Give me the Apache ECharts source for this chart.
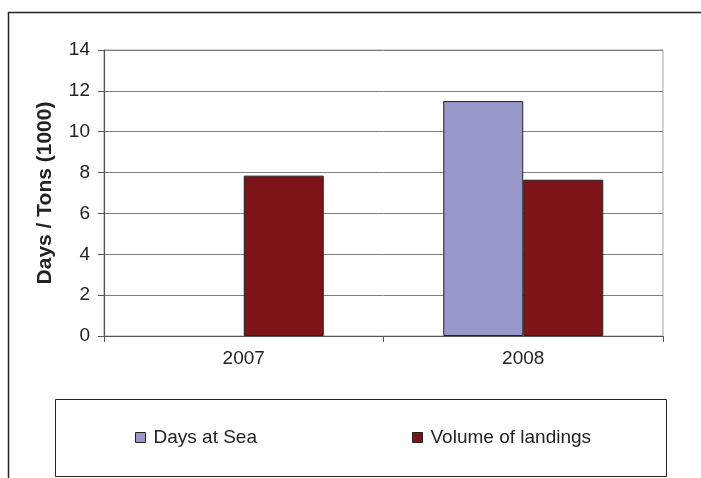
<!DOCTYPE html>
<html>
<head>
<meta charset="utf-8">
<script src="https://cdn.jsdelivr.net/npm/echarts@6/dist/echarts.min.js"></script>
<style>
  html, body { margin: 0; padding: 0; background: #fff; }
  #chart { width: 701px; height: 478px; }
</style>
</head>
<body>
<div id="chart"></div>
<script>
// Fishing effort and landings per year
const years = ['2007', '2008'];
const daysAtSea = [null, 11.5];
const volumeOfLandings = [7.85, 7.65];
const yTicks = [0, 2, 4, 6, 8, 10, 12, 14];
const seriesNames = ['Days at Sea', 'Volume of landings'];

const FONT = 'Liberation Sans, Arial, sans-serif';
const chart = echarts.init(document.getElementById('chart'), null, { renderer: 'canvas' });

chart.setOption({
  backgroundColor: '#ffffff',
  animation: false,
  textStyle: { fontFamily: FONT },
  grid: { left: 104, right: 38, top: 50, bottom: 142, show: true, borderColor: '#a6a6a6', borderWidth: 1 },
  xAxis: {
    type: 'category',
    data: years,
    axisLine: { lineStyle: { color: '#555', width: 1.2 } },
    axisTick: { show: true, length: 6, lineStyle: { color: '#555' } },
    axisLabel: { color: '#222', fontSize: 19, margin: 13, fontFamily: FONT }
  },
  yAxis: {
    type: 'value',
    min: yTicks[0],
    max: yTicks[yTicks.length - 1],
    interval: 2,
    name: 'Days / Tons (1000)',
    nameLocation: 'middle',
    nameGap: 48,
    nameTextStyle: { fontSize: 21, fontWeight: 'bold', color: '#222', fontFamily: FONT },
    axisLine: { show: true, lineStyle: { color: '#555', width: 1.2 } },
    axisTick: { show: true, length: 6, lineStyle: { color: '#555' } },
    axisLabel: { color: '#222', fontSize: 19, margin: 14, fontFamily: FONT },
    splitLine: { lineStyle: { color: '#7f7f7f', width: 1 } }
  },
  legend: [
    {
      data: [seriesNames[0]],
      left: 135, top: 428, padding: 0,
      icon: 'rect',
      itemWidth: 10, itemHeight: 10, itemGap: 0,
      itemStyle: { borderColor: '#222', borderWidth: 1 },
      textStyle: { fontSize: 19, color: '#222', fontFamily: FONT, padding: [0, 0, 0, 3] }
    },
    {
      data: [seriesNames[1]],
      left: 412, top: 428, padding: 0,
      icon: 'rect',
      itemWidth: 10, itemHeight: 10, itemGap: 0,
      itemStyle: { borderColor: '#222', borderWidth: 1 },
      textStyle: { fontSize: 19, color: '#222', fontFamily: FONT, padding: [0, 0, 0, 3] }
    }
  ],
  graphic: [
    // outer chart frame (left and top edges visible)
    { type: 'polyline', silent: true, shape: { points: [[8.5, 478], [8.5, 12.5], [701, 12.5]] },
      style: { stroke: '#222', lineWidth: 1.5, fill: null } },
    // legend frame
    { type: 'rect', silent: true, z: -1, shape: { x: 55.5, y: 399.5, width: 611, height: 77 },
      style: { stroke: '#222', lineWidth: 1, fill: '#fff' } }
  ],
  series: [
    {
      name: seriesNames[0],
      type: 'bar',
      data: daysAtSea,
      barWidth: 80,
      barGap: '0%',
      itemStyle: { color: '#9797c9', borderColor: '#222', borderWidth: 1 }
    },
    {
      name: seriesNames[1],
      type: 'bar',
      data: volumeOfLandings,
      barWidth: 80,
      barGap: '0%',
      itemStyle: { color: '#7f1418', borderColor: '#222', borderWidth: 1 }
    }
  ]
});
</script>
</body>
</html>
